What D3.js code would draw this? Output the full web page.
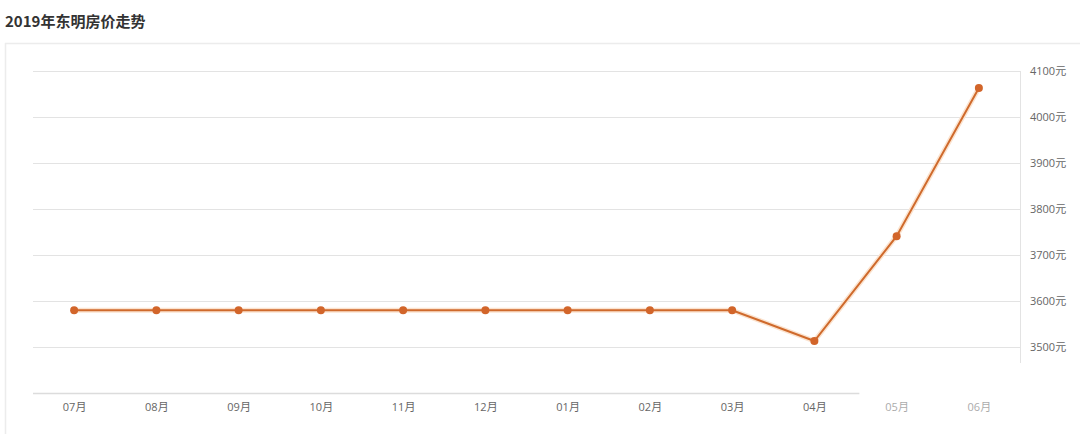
<!DOCTYPE html>
<html>
<head>
<meta charset="utf-8">
<script src="https://cdn.jsdelivr.net/npm/d3@7"></script>
<style>
  body { margin: 0; background: #fff; font-family: "Noto Sans CJK SC", "Noto Sans", sans-serif; }
  svg { display: block; }
</style>
</head>
<body>
<svg width="1080" height="434"></svg>
<script>
var months = ["07月", "08月", "09月", "10月", "11月", "12月", "01月", "02月", "03月", "04月", "05月", "06月"];
var prices = [3580, 3580, 3580, 3580, 3580, 3580, 3580, 3580, 3580, 3513, 3741, 4063];
var yTicks = [3500, 3600, 3700, 3800, 3900, 4000, 4100];

var svg = d3.select("svg");
var margin = {top: 71, right: 60, bottom: 41, left: 33};
var width = 1080 - margin.left - margin.right,
    height = 434 - margin.top - margin.bottom;

// title + panel border
svg.append("text")
    .attr("x", 5).attr("y", 27)
    .attr("font-size", 15).attr("font-weight", "bold")
    .attr("fill", "#333")
    .text("2019年东明房价走势");
svg.append("line").attr("x1", 5).attr("x2", 1080).attr("y1", 43.5).attr("y2", 43.5)
    .attr("stroke", "#ececec").attr("stroke-width", 1.5);
svg.append("line").attr("x1", 5.5).attr("x2", 5.5).attr("y1", 43).attr("y2", 434)
    .attr("stroke", "#ececec").attr("stroke-width", 1.5);

var x = d3.scalePoint().domain(months).range([0, width]).padding(0.5);
var y = d3.scaleLinear().domain([3400, 4100]).range([height, 0]);

var g = svg.append("g").attr("transform", "translate(" + margin.left + "," + margin.top + ")");

// grid
g.selectAll(".grid").data(yTicks).enter().append("line")
    .attr("class", "grid")
    .attr("x1", 0).attr("x2", width)
    .attr("y1", function(d) { return Math.round(y(d)) + 0.5; })
    .attr("y2", function(d) { return Math.round(y(d)) + 0.5; })
    .attr("stroke", "#e3e3e3");

// right axis
var yAxis = d3.axisRight(y).tickValues(yTicks).tickSize(0).tickPadding(10)
    .tickFormat(function(d) { return d + "元"; });
var ya = g.append("g").attr("transform", "translate(" + width + ",0)").call(yAxis);
ya.select(".domain").attr("d", "M0.5," + y(4100) + "V" + (y(3500) + 16)).attr("stroke", "#e3e3e3");
ya.selectAll("text").attr("fill", "#666").attr("font-size", 11)
    .attr("font-family", "'Open Sans', 'Noto Sans CJK SC', sans-serif");

// bottom axis
var xAxis = d3.axisBottom(x).tickSize(0).tickPadding(10);
var xa = g.append("g").attr("transform", "translate(0," + height + ")").call(xAxis);
xa.select(".domain").attr("d", "M0,0.5H" + (x("04月") + 45)).attr("stroke", "#dcdcdc").attr("stroke-width", 1.5);
xa.selectAll("text").attr("fill", "#666").attr("font-size", 11)
    .attr("font-family", "'Open Sans', 'Noto Sans CJK SC', sans-serif")
    .attr("opacity", function(d) { return (d == "05月" || d == "06月") ? 0.55 : 1; });

// line
var line = d3.line()
    .x(function(d, i) { return x(months[i]); })
    .y(function(d) { return y(d); });

g.append("path")
    .datum(prices)
    .attr("fill", "none")
    .attr("stroke", "#fbe3cf")
    .attr("stroke-width", 5)
    .attr("d", line);
g.append("path")
    .datum(prices)
    .attr("fill", "none")
    .attr("stroke", "#cf6a2c")
    .attr("stroke-width", 2)
    .attr("d", line);

g.selectAll(".dot").data(prices).enter().append("circle")
    .attr("class", "dot")
    .attr("cx", function(d, i) { return x(months[i]); })
    .attr("cy", function(d) { return y(d); })
    .attr("r", 4)
    .attr("fill", "#d2652a");
</script>
</body>
</html>
